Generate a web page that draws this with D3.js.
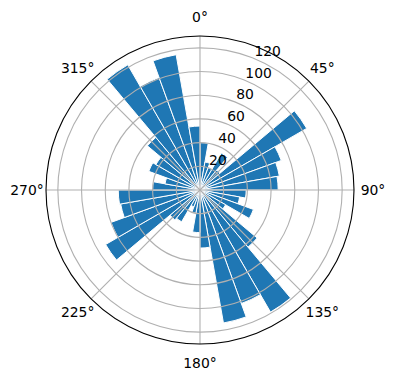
<!DOCTYPE html>
<html>
<head>
<meta charset="utf-8">
<script src="https://cdn.jsdelivr.net/npm/d3@7"></script>
<style>
  body { margin: 0; background: #fff; }
</style>
</head>
<body>
<div id="chart"></div>
<script>
// Data: bar centre direction (deg) and bar length
const directions = [5, 15, 25, 35, 45, 55, 65, 75, 85,
                    95, 105, 115, 125, 135, 145, 155, 165, 175,
                    185, 195, 205, 215, 225, 235, 245, 255, 265,
                    275, 285, 295, 305, 315, 325, 335, 345, 355];
const counts = [40, 24, 20, 36, 22, 104, 73, 68, 66,
                39, 34, 48, 25, 63, 119, 102, 114, 49,
                36, 20, 15, 31, 33, 92, 80, 68, 69,
                40, 30, 46, 43, 58, 122, 101, 116, 54];
const radialTicks = [20, 40, 60, 80, 100, 120];
const angleTicks = [0, 45, 90, 135, 180, 225, 270, 315];

// Constant
const width = 396;
const height = 380;
const cx = 200;
const cy = 190;
const outerRadius = 154;
const rMax = 130;
const barSpan = 10;
const barColor = '#1f77b4';
const gridColor = '#b0b0b0';
const fontFamily = `"DejaVu Sans", sans-serif`;
const fontSize = '13.9px';
const toRad = Math.PI / 180;

const rScale = d3.scaleLinear()
                .domain([0, rMax])
                .range([0, outerRadius]);

const svg = d3.select('#chart')
            .append('svg')
                .attr('width', width)
                .attr('height', height);

const g = svg.append('g')
            .attr('transform', `translate(${cx},${cy})`);

// bars
const arc = d3.arc()
            .innerRadius(0)
            .outerRadius(d => rScale(d.value))
            .startAngle(d => (d.dir - barSpan / 2) * toRad)
            .endAngle(d => (d.dir + barSpan / 2) * toRad);

const bars = directions.map((d, i) => ({dir: d, value: counts[i]}));

g.selectAll('.bar')
    .data(bars)
    .enter()
    .append('path')
    .attr('class', 'bar')
    .attr('d', arc)
    .attr('fill', barColor)
    .attr('stroke', '#fff')
    .attr('stroke-width', 1);

// grid drawn above bars, like matplotlib
g.selectAll('.ring')
    .data(radialTicks)
    .enter()
    .append('circle')
    .attr('class', 'ring')
    .attr('r', d => rScale(d))
    .attr('fill', 'none')
    .attr('stroke', gridColor)
    .attr('stroke-width', 1.1);

g.selectAll('.spoke')
    .data(angleTicks)
    .enter()
    .append('line')
    .attr('class', 'spoke')
    .attr('x1', 0)
    .attr('y1', 0)
    .attr('x2', d => outerRadius * Math.sin(d * toRad))
    .attr('y2', d => -outerRadius * Math.cos(d * toRad))
    .attr('stroke', gridColor)
    .attr('stroke-width', 1.1);

g.append('circle')
    .attr('r', outerRadius)
    .attr('fill', 'none')
    .attr('stroke', 'black')
    .attr('stroke-width', 1.1);

// angle labels
const labelRadius = outerRadius + 19;
g.selectAll('.angleLabel')
    .data(angleTicks)
    .enter()
    .append('text')
    .attr('class', 'angleLabel')
    .attr('x', d => labelRadius * Math.sin(d * toRad))
    .attr('y', d => -labelRadius * Math.cos(d * toRad))
    .attr('dy', '0.35em')
    .attr('text-anchor', 'middle')
    .style('font-family', fontFamily)
    .style('font-size', fontSize)
    .attr('fill', 'black')
    .text(d => `${d}°`);

// radial labels at 22.5 deg
const rlabelAngle = 22.5 * toRad;
g.selectAll('.rLabel')
    .data(radialTicks)
    .enter()
    .append('text')
    .attr('class', 'rLabel')
    .attr('x', d => rScale(d) * Math.sin(rlabelAngle))
    .attr('y', d => -rScale(d) * Math.cos(rlabelAngle) - 3)
    .attr('text-anchor', 'start')
    .style('font-family', fontFamily)
    .style('font-size', fontSize)
    .attr('fill', 'black')
    .text(d => d);
</script>
</body>
</html>
